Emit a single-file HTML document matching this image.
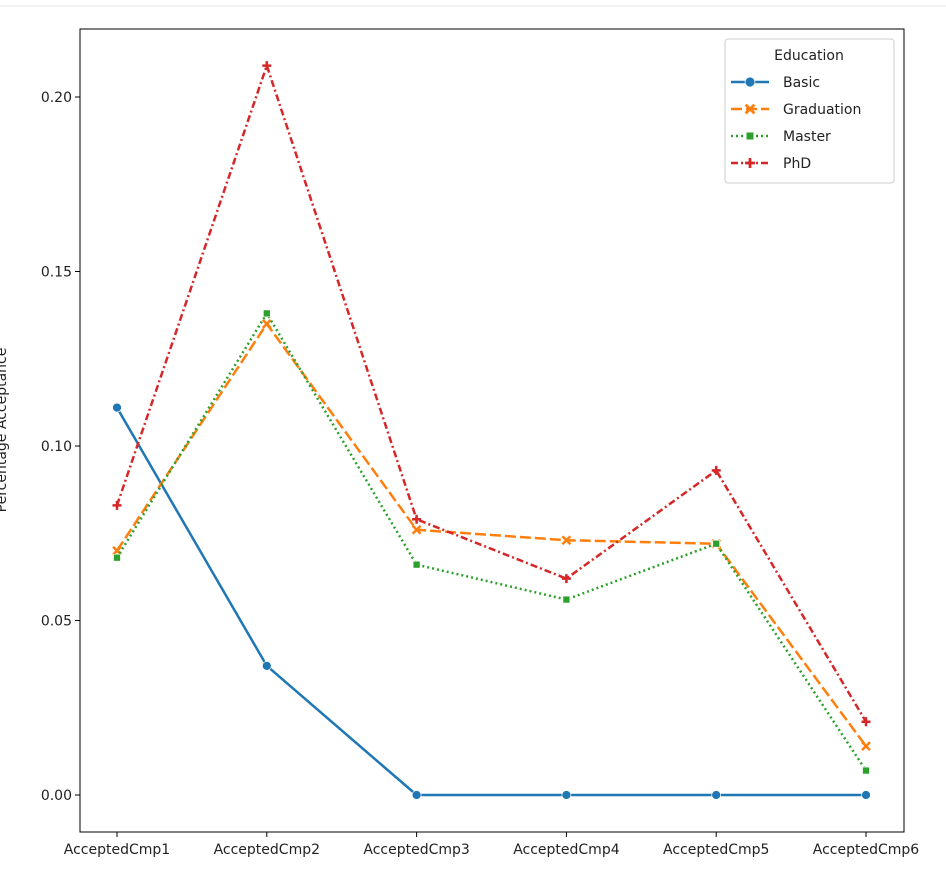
<!DOCTYPE html>
<html><head><meta charset="utf-8"><style>
body{margin:0;background:#fff;width:946px;height:873px;overflow:hidden}
svg{font-family:"DejaVu Sans","Liberation Sans",sans-serif}
</style></head><body>
<svg id="chart" width="946" height="873" xmlns="http://www.w3.org/2000/svg">
<line x1="0" y1="6" x2="946" y2="6" stroke="#e6e6e6"/>
<g id="plot"></g>
</svg>
<script>
const categories=["AcceptedCmp1","AcceptedCmp2","AcceptedCmp3","AcceptedCmp4","AcceptedCmp5","AcceptedCmp6"];
const basic=[0.111,0.037,0,0,0,0];
const graduation=[0.070,0.135,0.076,0.073,0.072,0.014];
const master=[0.068,0.138,0.066,0.056,0.072,0.007];
const phd=[0.083,0.209,0.079,0.062,0.093,0.021];
const yTicks=[0,0.05,0.10,0.15,0.20];
const yTickLabels=["0.00","0.05","0.10","0.15","0.20"];
const seriesNames=["Basic","Graduation","Master","PhD"];
const NS="http://www.w3.org/2000/svg";
const L=80,R=904,T=29,B=832;
const x=i=>117+i*149.8;
const y=v=>795-v*3490;
const g=document.getElementById('plot');
function mk(t,a,p){const e=document.createElementNS(NS,t);for(const k in a)e.setAttribute(k,a[k]);(p||g).appendChild(e);return e;}
let fr=mk('rect',{x:L,y:T,width:R-L,height:B-T,fill:'none',stroke:'#000','stroke-width':1});


yTicks.forEach((v,i)=>{
 let t=mk('line',{x1:L-5,x2:L,y1:y(v),y2:y(v),stroke:'#000'});
 
 
 let lb=mk('text',{x:L-8,y:y(v)+5,'text-anchor':'end','font-size':14,fill:'#222'});
 lb.textContent=yTickLabels[i];
 
 
});
categories.forEach((c,i)=>{
 let t=mk('line',{x1:x(i),x2:x(i),y1:B,y2:B+5,stroke:'#000'});
 
 
 let lb=mk('text',{x:x(i),y:B+22,'text-anchor':'middle','font-size':14,fill:'#222'});
 lb.textContent=c;
 
 
});
let yl=mk('text',{x:0,y:0,transform:'translate(6,430) rotate(-90)','text-anchor':'middle','font-size':14,fill:'#222'});
yl.textContent="Percentage Acceptance";


const series=[
 {d:basic,c:'#1f77b4',dash:'',m:'circle'},
 {d:graduation,c:'#ff7f0e',dash:'11 4',m:'x'},
 {d:master,c:'#2ca02c',dash:'2 3',m:'square'},
 {d:phd,c:'#d62728',dash:'7 3 2 3',m:'plus'}];
function marker(type,cx,cy,c,s,parent){
 let e;
 if(type==='circle')e=mk('circle',{cx,cy,r:4.5*s,fill:c,stroke:'#fff','stroke-width':0.7},parent);
 else if(type==='square')e=mk('rect',{x:cx-3.5*s,y:cy-3.5*s,width:7*s,height:7*s,fill:c,stroke:'#fff','stroke-width':0.7},parent);
 else if(type==='x'){const a=4*s;e=mk('path',{d:`M${cx-a},${cy-a}L${cx+a},${cy+a}M${cx-a},${cy+a}L${cx+a},${cy-a}`,stroke:c,'stroke-width':2.5*s},parent);}
 else {const a=4.5*s;e=mk('path',{d:`M${cx-a},${cy}L${cx+a},${cy}M${cx},${cy-a}L${cx},${cy+a}`,stroke:c,'stroke-width':2.5*s},parent);}
 return e;
}
series.forEach((s,si)=>{
 const grp=mk('g',{});
 
 
 let p=mk('polyline',{points:s.d.map((v,i)=>x(i)+','+y(v)).join(' '),fill:'none',stroke:s.c,'stroke-width':2.5,'stroke-dasharray':s.dash},grp);
 
 
 s.d.forEach((v,i)=>{
  let m=marker(s.m,x(i),y(v),s.c,1,grp);
  
  
 });
});
const lg=mk('g',{});


let box=mk('rect',{x:725,y:39,width:169,height:144,rx:3,fill:'#fff',stroke:'#ccc'},lg);


let lt=mk('text',{x:809,y:60,'text-anchor':'middle','font-size':14,fill:'#222'},lg);
lt.textContent="Education";


series.forEach((s,i)=>{
 const yy=82+i*27;
 const e=mk('g',{},lg);
 
 
 mk('line',{x1:731,x2:769,y1:yy,y2:yy,stroke:s.c,'stroke-width':2.5,'stroke-dasharray':s.dash},e);
 marker(s.m,750,yy,s.c,1.1,e);
 let t=mk('text',{x:783,y:yy+5,'font-size':14,fill:'#222'},e);
 t.textContent=seriesNames[i];
});
</script>
</body></html>
